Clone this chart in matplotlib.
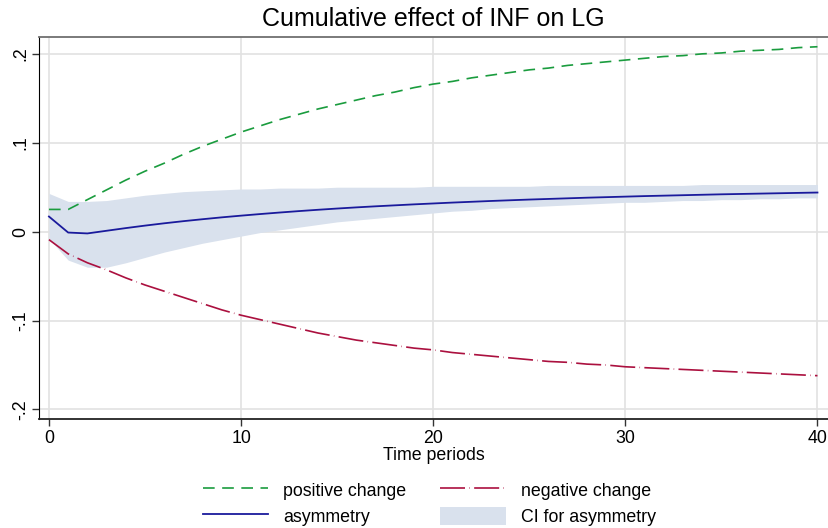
import matplotlib
matplotlib.use("Agg")
import matplotlib.pyplot as plt
import matplotlib.patches as mpatches
from matplotlib.lines import Line2D

plt.rcParams["font.family"] = ["Liberation Sans", "DejaVu Sans"]

periods = list(range(41))

positive_change = [0.025, 0.025, 0.036, 0.047, 0.058, 0.068, 0.077, 0.087, 0.096, 0.104,
                   0.112, 0.119, 0.126, 0.132, 0.138, 0.143, 0.148, 0.153, 0.157, 0.162,
                   0.166, 0.169, 0.173, 0.176, 0.179, 0.182, 0.184, 0.187, 0.189, 0.191,
                   0.193, 0.195, 0.197, 0.198, 0.200, 0.201, 0.203, 0.204, 0.205, 0.207,
                   0.208]

negative_change = [-0.009, -0.025, -0.035, -0.043, -0.052, -0.060, -0.067, -0.074, -0.081, -0.088,
                   -0.094, -0.099, -0.104, -0.109, -0.114, -0.118, -0.122, -0.125, -0.128, -0.131,
                   -0.133, -0.136, -0.138, -0.140, -0.142, -0.144, -0.146, -0.147, -0.149, -0.150,
                   -0.152, -0.153, -0.154, -0.155, -0.156, -0.157, -0.158, -0.159, -0.160, -0.161,
                   -0.162]

asymmetry = [0.017, -0.001, -0.002, 0.0010, 0.0040, 0.0068, 0.0094, 0.0118, 0.0140, 0.0161,
             0.0180, 0.0198, 0.0215, 0.0231, 0.0246, 0.0260, 0.0273, 0.0285, 0.0296, 0.0307,
             0.0317, 0.0327, 0.0336, 0.0345, 0.0353, 0.0361, 0.0368, 0.0375, 0.0382, 0.0388,
             0.0394, 0.0400, 0.0405, 0.0410, 0.0415, 0.0420, 0.0424, 0.0428, 0.0432, 0.0436,
             0.0440]

ci_upper = [0.043, 0.034, 0.034, 0.035, 0.038, 0.041, 0.043, 0.045, 0.046, 0.047,
            0.048, 0.048, 0.049, 0.049, 0.049, 0.050, 0.050, 0.050, 0.050, 0.050,
            0.051, 0.051, 0.051, 0.051, 0.051, 0.051, 0.052, 0.052, 0.052, 0.052,
            0.052, 0.052, 0.052, 0.052, 0.053, 0.053, 0.053, 0.053, 0.053, 0.053,
            0.053]

ci_lower = [-0.008, -0.032, -0.040, -0.040, -0.035, -0.029, -0.023, -0.018, -0.013, -0.009,
            -0.005, -0.001, 0.002, 0.005, 0.008, 0.011, 0.013, 0.015, 0.017, 0.019,
            0.021, 0.023, 0.024, 0.026, 0.027, 0.028, 0.029, 0.030, 0.031, 0.032,
            0.033, 0.033, 0.034, 0.035, 0.035, 0.036, 0.036, 0.037, 0.037, 0.038,
            0.038]

x_ticks = [0, 10, 20, 30, 40]
y_ticks = [-0.2, -0.1, 0, 0.1, 0.2]
y_tick_labels = ["-.2", "-.1", "0", ".1", ".2"]

GREEN = "#1a9c3e"
RED = "#ab103f"
NAVY = "#1a1a9c"
BAND = "#d9e1ed"

GREEN_DASH = (0, (7, 4.5))
RED_DASH = (0, (15, 2.6, 0.3, 2.6))

fig = plt.figure(figsize=(8.29, 5.28), dpi=100)
ax = fig.add_axes([0.047, 0.206, 0.953, 0.724])

ax.fill_between(periods, ci_lower, ci_upper, color=BAND, lw=0, zorder=2)
ax.plot(periods, positive_change, color=GREEN, lw=1.2, ls=GREEN_DASH, zorder=3)
ax.plot(periods, negative_change, color=RED, lw=1.2, ls=RED_DASH, zorder=3)
ax.plot(periods, asymmetry, color=NAVY, lw=1.3, zorder=4)

ax.set_xlim(-0.52, 40.6)
ax.set_ylim(-0.211, 0.219)
ax.set_xticks(x_ticks)
ax.set_yticks(y_ticks)
ax.set_yticklabels(y_tick_labels, rotation=90, va="center")
ax.tick_params(axis="both", labelsize=12.8, length=5, width=1, color="#333333")
ax.tick_params(axis="x", pad=3)
ax.tick_params(axis="y", pad=2)

ax.grid(True, color="#e2e2e2", lw=1.2, zorder=1)
ax.set_axisbelow(True)

ax.spines["left"].set_color("black")
ax.spines["bottom"].set_color("#222222")
ax.spines["bottom"].set_linewidth(1.3)
ax.spines["top"].set_color("#707070")
ax.spines["top"].set_linewidth(1.3)
ax.spines["right"].set_visible(False)

ax.set_xlabel("Time periods", fontsize=12.8, labelpad=0)
fig.text(0.523, 0.987, "Cumulative effect of INF on LG", fontsize=18, ha="center", va="top")

handles = [
    Line2D([], [], color=GREEN, lw=1.2, ls=GREEN_DASH),
    Line2D([], [], color=NAVY, lw=1.3),
    Line2D([], [], color=RED, lw=1.2, ls=RED_DASH),
    mpatches.Patch(color=BAND, lw=0),
]
labels = ["positive change", "asymmetry", "negative change", "CI for asymmetry"]
fig.legend(handles, labels, ncol=2, loc="upper center", bbox_to_anchor=(0.518, 0.09),
           frameon=False, fontsize=12.8, handlelength=3.7, handleheight=1.2,
           handletextpad=0.85, columnspacing=1.9, labelspacing=0.4, borderaxespad=0,
           borderpad=0)

fig.savefig("out.png", dpi=100)
